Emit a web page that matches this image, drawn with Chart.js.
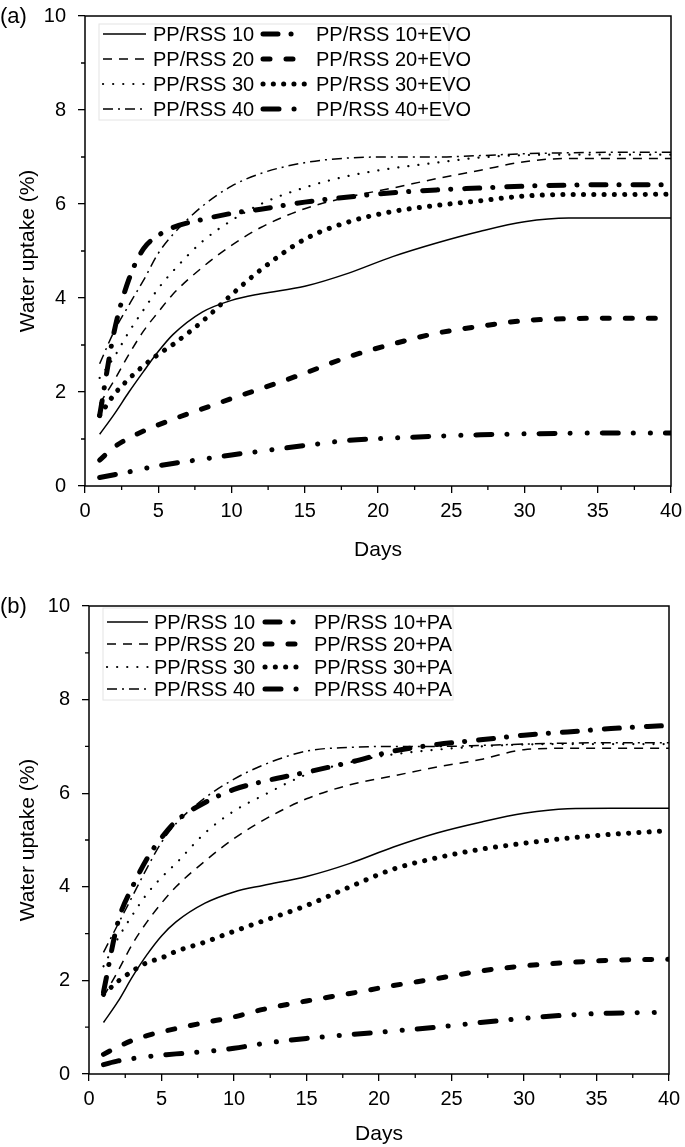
<!DOCTYPE html>
<html lang="en">
<head>
<meta charset="UTF-8">
<title>Water uptake</title>
<script src="https://cdn.jsdelivr.net/npm/chart.js@4.4.1/dist/chart.umd.min.js"></script>
<style>
  body { margin: 0; background: #fff; }
  canvas { position: absolute; left: 0; }
  #chartA { top: 0; }
  #chartB { top: 590px; }
</style>
</head>
<body>
<canvas id="chartA" width="685" height="580"></canvas>
<canvas id="chartB" width="685" height="557"></canvas>
<script>
const days = [1, 2, 3, 4, 5, 6, 8, 10, 12, 15, 18, 21, 24, 27, 30, 33, 36, 40];

// panel (a)
const a10 = [1.1, 1.53, 2.0, 2.44, 2.86, 3.22, 3.7, 3.95, 4.09, 4.25, 4.53, 4.88, 5.17, 5.42, 5.62, 5.7, 5.7, 5.7];
const a20 = [1.75, 2.25, 2.8, 3.3, 3.7, 4.08, 4.65, 5.12, 5.5, 5.9, 6.15, 6.34, 6.54, 6.72, 6.9, 6.97, 6.97, 6.97];
const a30 = [2.3, 2.75, 3.28, 3.75, 4.2, 4.57, 5.2, 5.65, 6.0, 6.35, 6.6, 6.76, 6.88, 6.99, 7.04, 7.05, 7.05, 7.05];
const a40 = [2.6, 3.3, 3.85, 4.38, 4.95, 5.35, 5.95, 6.38, 6.65, 6.88, 6.98, 7.0, 7.0, 7.03, 7.07, 7.09, 7.1, 7.1];
const aEvo10 = [1.5, 3.3, 4.4, 5.05, 5.33, 5.5, 5.67, 5.8, 5.89, 6.04, 6.15, 6.24, 6.3, 6.34, 6.38, 6.4, 6.41, 6.41];
const aEvo20 = [0.55, 0.83, 1.02, 1.17, 1.3, 1.42, 1.64, 1.86, 2.07, 2.4, 2.75, 3.02, 3.25, 3.4, 3.52, 3.56, 3.57, 3.57];
const aEvo30 = [1.5, 1.95, 2.28, 2.56, 2.8, 3.01, 3.5, 4.07, 4.6, 5.25, 5.62, 5.84, 5.97, 6.07, 6.17, 6.2, 6.2, 6.21];
const aEvo40 = [0.18, 0.24, 0.3, 0.37, 0.43, 0.48, 0.57, 0.66, 0.74, 0.86, 0.97, 1.02, 1.06, 1.09, 1.11, 1.12, 1.13, 1.13];

// panel (b)
const b10 = [1.1, 1.55, 2.08, 2.55, 2.95, 3.25, 3.65, 3.89, 4.03, 4.22, 4.5, 4.85, 5.15, 5.38, 5.57, 5.67, 5.68, 5.68];
const b20 = [1.65, 2.2, 2.78, 3.25, 3.65, 4.0, 4.55, 5.03, 5.42, 5.88, 6.18, 6.37, 6.56, 6.72, 6.93, 6.96, 6.96, 6.96];
const b30 = [2.3, 2.9, 3.4, 3.85, 4.2, 4.5, 5.15, 5.62, 5.95, 6.4, 6.66, 6.83, 6.93, 7.0, 7.04, 7.05, 7.05, 7.05];
const b40 = [2.6, 3.2, 3.8, 4.4, 4.95, 5.35, 5.9, 6.3, 6.6, 6.9, 6.98, 7.0, 7.0, 7.02, 7.05, 7.07, 7.08, 7.08];
const bPa10 = [1.75, 3.25, 4.0, 4.6, 5.05, 5.4, 5.8, 6.08, 6.25, 6.45, 6.66, 6.9, 7.04, 7.14, 7.24, 7.31, 7.38, 7.45];
const bPa20 = [0.42, 0.58, 0.72, 0.82, 0.9, 0.97, 1.1, 1.22, 1.38, 1.56, 1.72, 1.89, 2.04, 2.2, 2.31, 2.38, 2.43, 2.45];
const bPa30 = [1.7, 1.98, 2.2, 2.38, 2.48, 2.62, 2.82, 3.05, 3.27, 3.6, 4.0, 4.38, 4.62, 4.8, 4.93, 5.04, 5.12, 5.2];
const bPa40 = [0.2, 0.28, 0.33, 0.37, 0.4, 0.43, 0.48, 0.55, 0.65, 0.76, 0.84, 0.92, 1.0, 1.1, 1.19, 1.26, 1.3, 1.32];

const FONT = 'Arial, "Liberation Sans", sans-serif';

// line looks, same order for both panels
const looks = [
  { w: 1.5, dash: [], cap: 'butt' },                       // 10
  { w: 1.5, dash: [9, 7], cap: 'butt' },                   // 20
  { w: 2.2, dash: [0.1, 10], cap: 'round' },               // 30
  { w: 1.5, dash: [10, 5, 2, 5], cap: 'butt' },            // 40
  { w: 5, dash: [15, 13, 0.1, 14], cap: 'round' },         // 10+
  { w: 5, dash: [7, 16], cap: 'round' },                   // 20+
  { w: 5, dash: [0.1, 10.2], cap: 'round' },               // 30+
  { w: 5, dash: [16, 15, 0.1, 17, 0.1, 15], cap: 'round' } // 40+
];

function pts(arr) {
  return days.map((d, i) => ({ x: d, y: arr[i] }));
}

function makeSets(names, series) {
  return series.map((s, i) => ({
    label: names[i],
    data: pts(s),
    borderColor: '#000',
    borderWidth: looks[i].w,
    borderDash: looks[i].dash,
    borderCapStyle: looks[i].cap,
    pointRadius: 0,
    fill: false,
    cubicInterpolationMode: 'monotone'
  }));
}

// frame, minor ticks, panel letter, legend
const decor = {
  id: 'decor',
  afterDraw(chart, args, opts) {
    const { ctx, chartArea: a, scales: { x, y } } = chart;
    ctx.save();
    ctx.strokeStyle = '#000';
    ctx.lineWidth = 1.5;
    ctx.setLineDash([]);
    ctx.strokeRect(a.left, a.top, a.right - a.left, a.bottom - a.top);
    ctx.lineWidth = 1.3;
    ctx.beginPath();
    for (let v = 2.5; v < 40; v += 5) {
      const px = x.getPixelForValue(v);
      ctx.moveTo(px, a.bottom); ctx.lineTo(px, a.bottom + 4);
    }
    for (let v = 1; v < 10; v += 2) {
      const py = y.getPixelForValue(v);
      ctx.moveTo(a.left, py); ctx.lineTo(a.left - 4, py);
    }
    ctx.stroke();

    ctx.fillStyle = '#000';
    ctx.font = '22px ' + FONT;
    ctx.textBaseline = 'middle';
    ctx.textAlign = 'left';
    ctx.fillText(opts.letter, 0, a.top + 1);

    // legend box
    ctx.strokeStyle = '#e4e4e4';
    ctx.lineWidth = 1;
    ctx.strokeRect(opts.box[0], opts.box[1], opts.box[2], opts.box[3]);

    ctx.font = '20px ' + FONT;
    chart.data.datasets.forEach((ds, i) => {
      const col = i < 4 ? 0 : 1;
      const row = i % 4;
      const ly = opts.rows[row];
      const [x0, x1, tx] = opts.cols[col];
      ctx.strokeStyle = '#000';
      ctx.lineWidth = ds.borderWidth;
      ctx.lineCap = ds.borderCapStyle;
      ctx.setLineDash(ds.borderDash);
      ctx.beginPath();
      ctx.moveTo(x0, ly); ctx.lineTo(x1, ly);
      ctx.stroke();
      ctx.setLineDash([]);
      ctx.fillText(ds.label, tx, ly + 1);
    });
    ctx.restore();
  }
};

function build(id, names, series, o) {
  new Chart(document.getElementById(id), {
    type: 'line',
    data: { datasets: makeSets(names, series) },
    plugins: [decor],
    options: {
      responsive: false,
      animation: false,
      devicePixelRatio: 1,
      layout: { padding: { top: 16, right: o.right, left: 0, bottom: 0 } },
      plugins: {
        legend: { display: false },
        tooltip: { enabled: false },
        decor: o.decor
      },
      scales: {
        x: {
          type: 'linear', min: 0, max: 40,
          afterFit: s => { s.height = o.xh; s.paddingLeft = 0; s.paddingRight = 0; },
          ticks: { stepSize: 5, color: '#000', font: { size: 20, family: FONT }, padding: 6, maxRotation: 0 },
          grid: { drawOnChartArea: false, tickLength: 7, color: '#000', lineWidth: 1.3 },
          border: { display: false },
          title: { display: true, text: 'Days', color: '#000', font: { size: 21, family: FONT }, padding: { top: 0, bottom: o.titleB } }
        },
        y: {
          min: 0, max: 10,
          afterFit: s => { s.width = o.yw; s.paddingTop = 0; s.paddingBottom = 0; },
          ticks: { stepSize: 2, color: '#000', font: { size: 20, family: FONT }, padding: 12 },
          grid: { drawOnChartArea: false, tickLength: 7, color: '#000', lineWidth: 1.3 },
          border: { display: false },
          title: { display: true, text: 'Water uptake (%)', color: '#000', font: { size: 21, family: FONT }, padding: { top: 16, bottom: 0 } }
        }
      }
    }
  });
}

build('chartA',
  ['PP/RSS 10', 'PP/RSS 20', 'PP/RSS 30', 'PP/RSS 40', 'PP/RSS 10+EVO', 'PP/RSS 20+EVO', 'PP/RSS 30+EVO', 'PP/RSS 40+EVO'],
  [a10, a20, a30, a40, aEvo10, aEvo20, aEvo30, aEvo40],
  { right: 14, yw: 85, xh: 94, titleB: 17,
    decor: { letter: '(a)', rows: [34, 59, 84, 109], cols: [[103, 146, 153], [263, 305, 316]], box: [99, 24, 350, 96] } });

build('chartB',
  ['PP/RSS 10', 'PP/RSS 20', 'PP/RSS 30', 'PP/RSS 40', 'PP/RSS 10+PA', 'PP/RSS 20+PA', 'PP/RSS 30+PA', 'PP/RSS 40+PA'],
  [b10, b20, b30, b40, bPa10, bPa20, bPa30, bPa40],
  { right: 16, yw: 89, xh: 73, titleB: 0,
    decor: { letter: '(b)', rows: [32, 54, 77, 99], cols: [[107, 148, 154], [265, 303, 314]], box: [103, 18, 350, 92] } });
</script>
</body>
</html>
